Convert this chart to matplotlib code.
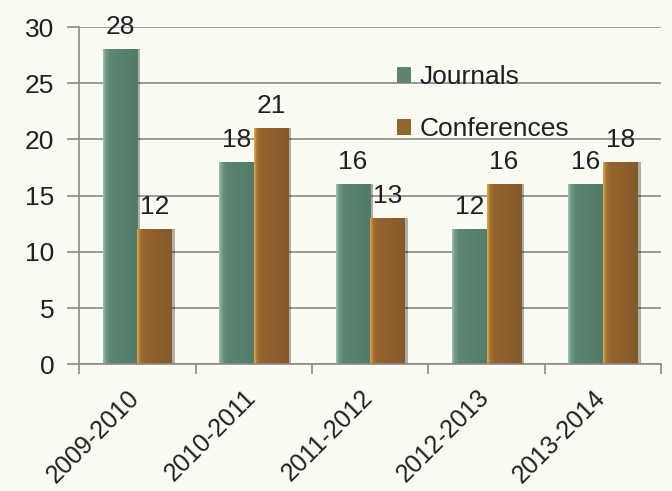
import numpy as np
from matplotlib import pyplot as plt
from matplotlib import transforms
from matplotlib.colors import LinearSegmentedColormap

years = ['2009-2010', '2010-2011', '2011-2012', '2012-2013', '2013-2014']
journals = [28, 18, 16, 12, 16]
conferences = [12, 21, 13, 16, 18]

bg = '#fcfbf1'
txt = '#1d2029'
plt.rcParams['font.family'] = ['Liberation Sans', 'DejaVu Sans']

fig = plt.figure(figsize=(6.72, 4.91), dpi=100, facecolor=bg)
ax = fig.add_axes([0.118, 0.258, 0.866, 0.687])
ax.set_facecolor(bg)

x = np.arange(len(years))
w = 0.297

# gradient fills for the bars (thin light left edge, mostly flat body)
cm_j = LinearSegmentedColormap.from_list(
    'j', [(0, '#9dbfae'), (0.08, '#6f9a85'), (0.2, '#5b8672'), (1, '#527c68')])
cm_c = LinearSegmentedColormap.from_list(
    'c', [(0, '#e0a653'), (0.08, '#a8742f'), (0.2, '#92642e'), (1, '#86592a')])
grad = np.linspace(0, 1, 64).reshape(1, -1)


def gradient_bars(bars, cmap):
    for b in bars:
        x0, y0 = b.get_x(), b.get_y()
        x1, y1 = x0 + b.get_width(), y0 + b.get_height()
        # drop shadow on the right side
        ax.bar(x0 + b.get_width() / 2 + 0.025, b.get_height(), b.get_width(),
               bottom=0, color='#000000', alpha=0.3, zorder=1.5, linewidth=0)
        im = ax.imshow(grad, cmap=cmap, extent=[x0, x1, y0, y1], aspect='auto', zorder=2)
        im.set_clip_path(b)


bj = ax.bar(x - w / 2, journals, w, color='#5b8672', zorder=2, linewidth=0, label='Journals')
bc = ax.bar(x + w / 2, conferences, w, color='#92642e', zorder=2, linewidth=0, label='Conferences')
gradient_bars(bj, cm_j)
gradient_bars(bc, cm_c)

for xi, v in zip(x, journals):
    ax.text(xi - w / 2, v + 0.9, str(v), ha='center', va='bottom', fontsize=19, color=txt, zorder=5)
for xi, v in zip(x, conferences):
    ax.text(xi + w / 2, v + 0.9, str(v), ha='center', va='bottom', fontsize=19, color=txt, zorder=5)

ax.set_xlim(-0.5, len(years) - 0.5)
ax.set_ylim(0, 30)
ax.set_yticks(range(0, 31, 5))
ax.yaxis.grid(True, color='#8a8a8a', linewidth=1.2, zorder=0)
ax.set_axisbelow(True)

# category boundaries get the tick marks, labels are drawn at the centres
ax.set_xticks(np.arange(-0.5, len(years), 1.0))
ax.set_xticklabels([])
ax.tick_params(axis='x', length=7, color='#8a8a8a', width=1.2)
shift = transforms.ScaledTranslation(-10 / 100, -21 / 100, fig.dpi_scale_trans)
for xi, yr in zip(x, years):
    ax.text(xi, 0, yr, transform=ax.get_xaxis_transform() + shift, rotation=45,
            ha='right', va='top', rotation_mode='anchor', fontsize=18, color=txt)

ax.tick_params(axis='y', length=9, color='#8a8a8a', width=1.2, labelsize=19, pad=9,
               labelcolor=txt)

for s in ['top', 'right']:
    ax.spines[s].set_visible(False)
for s in ['left', 'bottom']:
    ax.spines[s].set_color('#8a8a8a')
    ax.spines[s].set_linewidth(1.2)

leg = ax.legend(loc='upper left', bbox_to_anchor=(0.523, 0.925), frameon=False, fontsize=19,
                handlelength=0.55, handleheight=0.55, handletextpad=0.3, labelspacing=1.05,
                borderpad=0)
for t in leg.get_texts():
    t.set_color(txt)

fig.savefig('out.png', dpi=100, facecolor=bg)
